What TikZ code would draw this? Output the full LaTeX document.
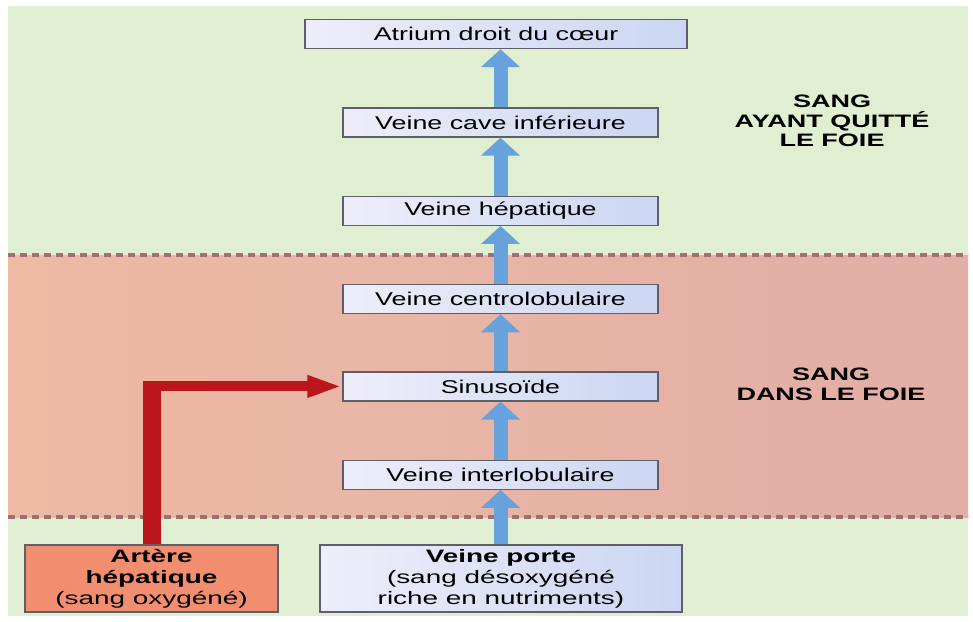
\documentclass[tikz,border=0pt]{standalone}
\usepackage{fontspec}
\setmainfont{Liberation Sans}
\newfontfamily\boxfont[FakeStretch=1.45]{Liberation Sans}
\newfontfamily\basefont[FakeStretch=1.55]{Liberation Sans}
\newfontfamily\zonefont[FakeStretch=1.5]{Liberation Sans}
\usetikzlibrary{arrows.meta,positioning}
\definecolor{zoneGreen}{RGB}{224,238,210}
\definecolor{zoneRed}{RGB}{238,186,164}
\definecolor{zoneRedR}{RGB}{226,174,166}
\definecolor{dashGray}{RGB}{158,112,112}
\definecolor{boxLeft}{RGB}{238,238,250}
\definecolor{boxRight}{RGB}{204,214,242}
\definecolor{boxLine}{RGB}{95,95,105}
\definecolor{flowBlue}{RGB}{104,162,220}
\definecolor{arteryRed}{RGB}{186,22,28}
\definecolor{arterySalmon}{RGB}{242,142,112}

\begin{document}
\begin{tikzpicture}[x=1pt,y=-1pt,
        vessel/.style={draw=boxLine,line width=1.3pt,left color=boxLeft,right color=boxRight,
          minimum width=315pt,minimum height=29pt,inner sep=0pt,align=center,
          font=\boxfont\fontsize{18.5}{21}\selectfont},
        source/.style={vessel,minimum width=362pt,minimum height=67pt,
          font=\basefont\fontsize{18}{21}\selectfont},
        artery/.style={source,minimum width=253pt,left color=arterySalmon,right color=arterySalmon},
        zone/.style={align=center,font=\zonefont\bfseries\fontsize{18}{19.5}\selectfont},
        flow/.style={-{Triangle[width=38pt,length=18pt]},line width=14pt,draw=flowBlue},
        limit/.style={draw=dashGray,line width=4pt,dash pattern=on 7pt off 5pt}
      ]
        % fond et zones
        \fill[white] (0,0) rectangle (973,621);
        \useasboundingbox (0,0) rectangle (973,621);
        \fill[zoneGreen] (8,6) rectangle (968,616);
        \fill[left color=zoneRed,right color=zoneRedR] (8,255) rectangle (968,517);
        \draw[limit] (8,255) -- (968,255);
        \draw[limit] (8,517) -- (968,517);
        % colonne des veines
        \node[vessel,minimum width=382pt] (atrium) at (496,34) {Atrium droit du c\oe ur};
        \node[vessel] (cave) at (500.5,122.5) {Veine cave inférieure};
        \node[vessel,below=58pt of cave] (hepatique) {Veine hépatique};
        \node[vessel,below=58pt of hepatique] (centro) {Veine centrolobulaire};
        \node[vessel,below=57pt of centro] (sinus) {Sinusoïde};
        \node[vessel,below=58pt of sinus] (inter) {Veine interlobulaire};
        \node[source] (porte) at (501,578.5) {\textbf{Veine porte}\\(sang désoxygéné\\riche en nutriments)};
        \node[artery] (artere) at (151.5,578.5) {\textbf{Artère}\\\textbf{hépatique}\\(sang oxygéné)};
        \node[zone] (quitte) at (832,121) {SANG\\AYANT QUITTÉ\\LE FOIE};
        \node[zone] (dans) at (831,384.5) {SANG\\DANS LE FOIE};
        % flux
        \draw[flow] (porte.north -| inter) -- (inter);
        \draw[flow] (inter) -- (sinus);
        \draw[flow] (sinus) -- (centro);
        \draw[flow] (centro) -- (hepatique);
        \draw[flow] (hepatique) -- (cave);
        \draw[flow] (cave) -- (atrium.south -| cave);
        \coordinate (coude) at (artere.north |- sinus.west);
        \draw[arteryRed,line width=18pt] (artere.north) -- ([yshift=5pt]coude);
        \draw[arteryRed,line width=10pt,-{Triangle[width=20pt,length=35pt]}] ([xshift=-9pt]coude) -- (sinus.west);
      \end{tikzpicture}
\end{document}
